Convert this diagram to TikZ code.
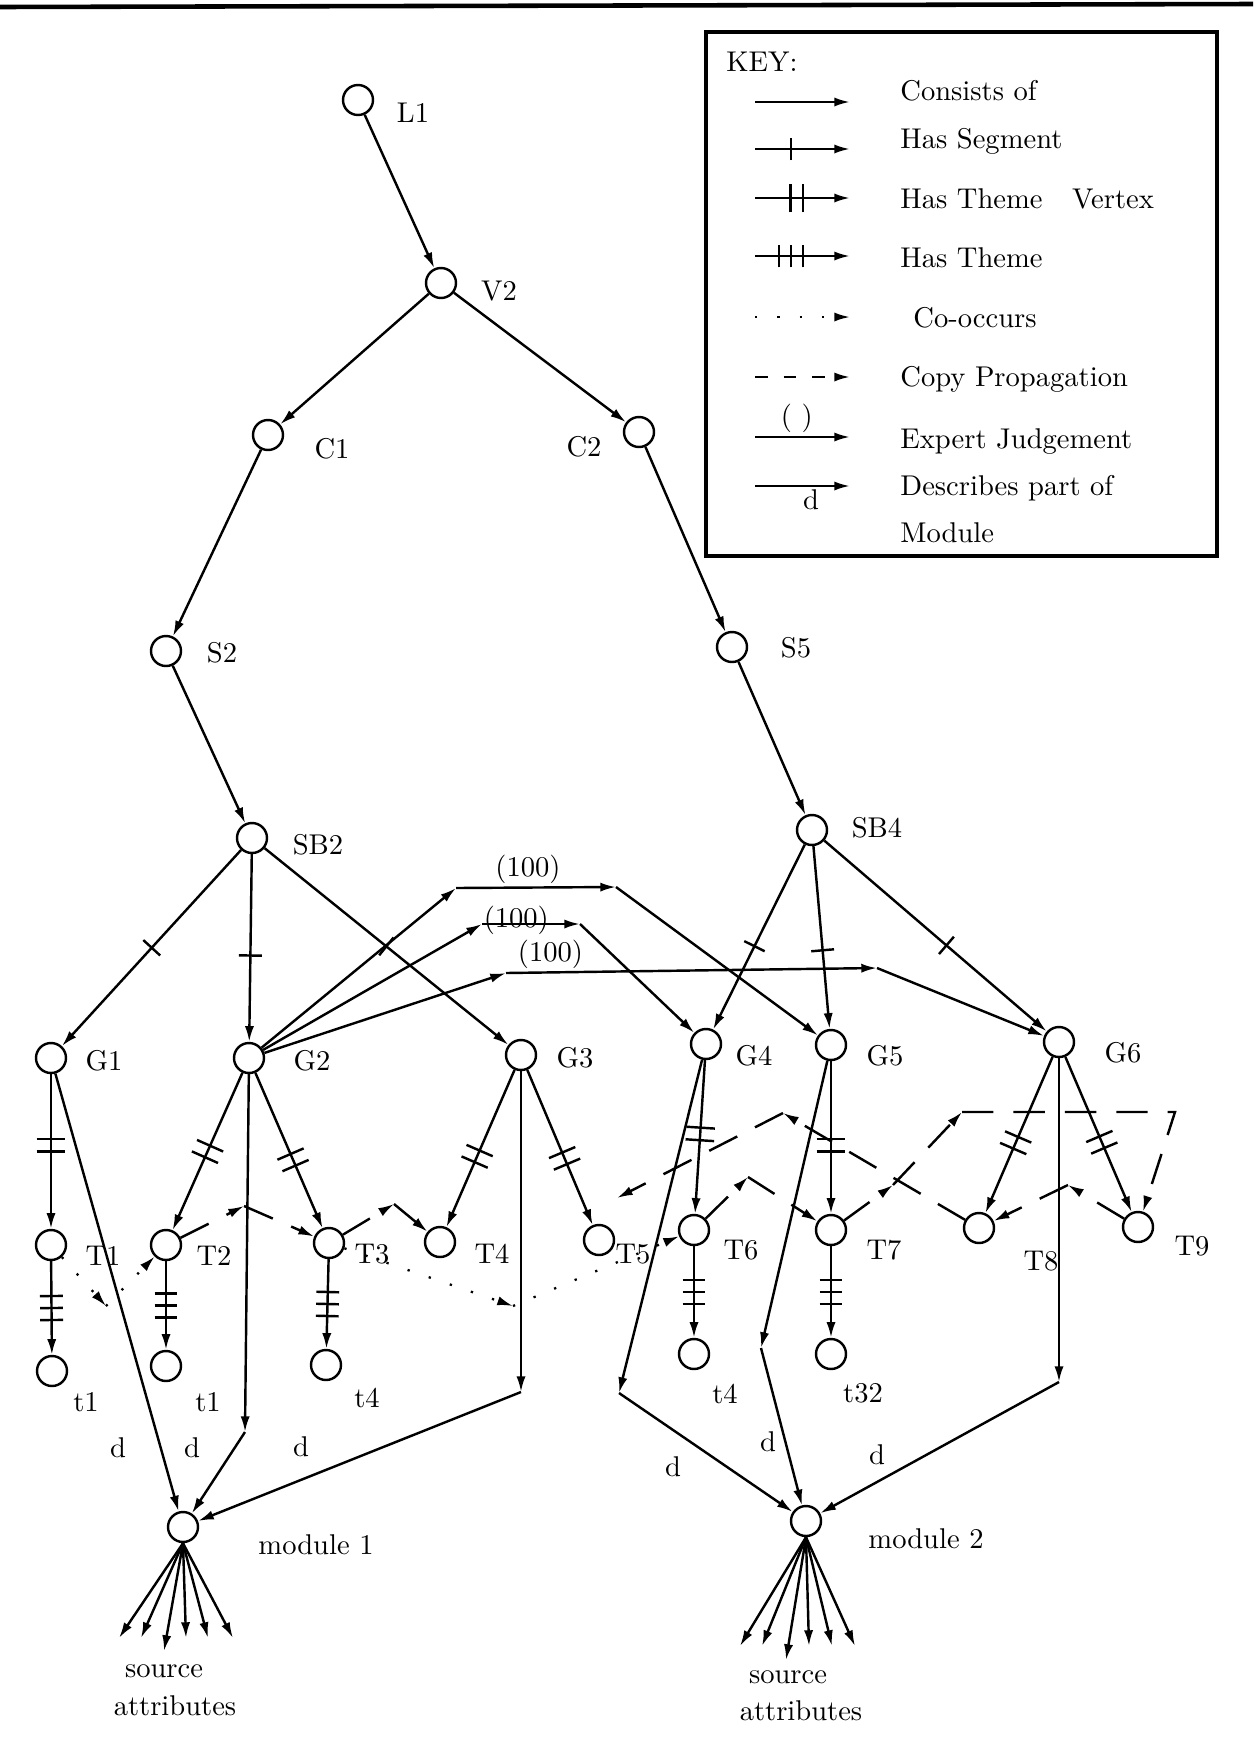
\documentclass[tikz,border=0pt]{standalone}
\usepackage{tikz}
\usetikzlibrary{arrows.meta, positioning, calc, decorations.markings}

\begin{document}
\begin{tikzpicture}[
  x=0.35pt, y=-0.35pt,
  >={Latex[length=5.5pt,width=3.2pt]},
  vtx/.style={draw, circle, minimum size=10.5pt, inner sep=0pt, line width=0.85pt},
  lbl/.style={inner sep=1pt},
  cons/.style={->, line width=0.85pt},
  judge/.style={cons},
  descr/.style={cons},
  seg/.style={cons, postaction={decorate}, decoration={markings,
    mark=at position #1 with {\draw[-, solid, line width=0.85pt] (0,-4pt) -- (0,4pt);}}},
  seg/.default=0.5,
  thvtx/.style={cons, postaction={decorate}, decoration={markings,
    mark=at position #1 with {\draw[-, solid, line width=0.85pt] (-2.2pt,-5pt) -- (-2.2pt,5pt) (2.2pt,-5pt) -- (2.2pt,5pt);}}},
  thvtx/.default=0.5,
  theme/.style={cons, postaction={decorate}, decoration={markings,
    mark=at position #1 with {\draw[-, solid, line width=0.85pt] (-4.2pt,-4pt) -- (-4.2pt,4pt) (0,-4pt) -- (0,4pt) (4.2pt,-4pt) -- (4.2pt,4pt);}}},
  theme/.default=0.5,
  cooc/.style={->, line width=0.8pt, dash pattern=on 0.8pt off 7pt},
  copyprop/.style={->, line width=0.85pt, dash pattern=on 11pt off 7pt},
  keycp/.style={copyprop, dash pattern=on 4.5pt off 5.5pt}
]
\useasboundingbox (0,0) rectangle (1253,1737);

% Rule along the top of the page
\draw[line width=1.6pt] (0,7) -- (1253,4);

% Tree from L1 down to the sub-blocks
\node[vtx] (L1) at (358,100) {};
\node[vtx] (V2) at (441,283) {};
\node[vtx] (C1) at (268,435) {};
\node[vtx] (C2) at (639,432) {};
\node[vtx] (S2) at (166,651) {};
\node[vtx] (S5) at (732,647) {};
\node[vtx] (SB2) at (252,838) {};
\node[vtx] (SB4) at (812,830) {};

% Groups
\node[vtx] (G1) at (51,1058) {};
\node[vtx] (G2) at (249,1058) {};
\node[vtx] (G3) at (521,1055) {};
\node[vtx] (G4) at (706,1044) {};
\node[vtx] (G5) at (831,1045) {};
\node[vtx] (G6) at (1059,1042) {};

% Themes
\node[vtx] (T1) at (51,1245) {};
\node[vtx] (T2) at (166,1245) {};
\node[vtx] (T3) at (329,1243) {};
\node[vtx] (T4) at (440,1242) {};
\node[vtx] (T5) at (599,1240) {};
\node[vtx] (T6) at (694,1230) {};
\node[vtx] (T7) at (831,1230) {};
\node[vtx] (T8) at (979,1228) {};
\node[vtx] (T9) at (1138,1227) {};

% Theme vertices
\node[vtx] (t1a) at (52,1371) {};
\node[vtx] (t1b) at (166,1366) {};
\node[vtx] (t4a) at (326,1365) {};
\node[vtx] (t4b) at (694,1354) {};
\node[vtx] (t32) at (831,1354) {};

% Modules
\node[vtx] (M1) at (183,1527) {};
\node[vtx] (M2) at (806,1521) {};

% Names beside the circles
\node[lbl] (L1-l) at ($(L1)+(55,13)$) {L1};
\node[lbl] (V2-l) at ($(V2)+(58,8)$) {V2};
\node[lbl] (C1-l) at ($(C1)+(64,14)$) {C1};
\node[lbl] (C2-l) at ($(C2)+(-55,15)$) {C2};
\node[lbl] (S2-l) at ($(S2)+(56,2)$) {S2};
\node[lbl] (S5-l) at ($(S5)+(64,1)$) {S5};
\node[lbl] (SB2-l) at ($(SB2)+(66,7)$) {SB2};
\node[lbl] (SB4-l) at ($(SB4)+(65,-2)$) {SB4};
\node[lbl] (G1-l) at ($(G1)+(53,3)$) {G1};
\node[lbl] (G2-l) at ($(G2)+(63,3)$) {G2};
\node[lbl] (G3-l) at ($(G3)+(54,3)$) {G3};
\node[lbl] (G4-l) at ($(G4)+(48,12)$) {G4};
\node[lbl] (G5-l) at ($(G5)+(54,11)$) {G5};
\node[lbl] (G6-l) at ($(G6)+(64,11)$) {G6};
\node[lbl] (T1-l) at ($(T1)+(52,11)$) {T1};
\node[lbl] (T2-l) at ($(T2)+(48,11)$) {T2};
\node[lbl] (T3-l) at ($(T3)+(43,11)$) {T3};
\node[lbl] (T4-l) at ($(T4)+(52,12)$) {T4};
\node[lbl] (T5-l) at ($(T5)+(34,14)$) {T5};
\node[lbl] (T6-l) at ($(T6)+(47,20)$) {T6};
\node[lbl] (T7-l) at ($(T7)+(53,20)$) {T7};
\node[lbl] (T8-l) at ($(T8)+(62,33)$) {T8};
\node[lbl] (T9-l) at ($(T9)+(54,19)$) {T9};
\node[lbl] (t1a-l) at ($(t1a)+(34,31)$) {t1};
\node[lbl] (t1b-l) at ($(t1b)+(42,36)$) {t1};
\node[lbl] (t4a-l) at ($(t4a)+(41,33)$) {t4};
\node[lbl] (t4b-l) at ($(t4b)+(31,40)$) {t4};
\node[lbl] (t32-l) at ($(t32)+(32,39)$) {t32};
\node[lbl] (M1-l) at ($(M1)+(133,18)$) {module 1};
\node[lbl] (M2-l) at ($(M2)+(120,18)$) {module 2};

% Consists of
\draw[cons] (L1) -- (V2);
\draw[cons] (V2) -- (C1);
\draw[cons] (V2) -- (C2);
\draw[cons] (C1) -- (S2);
\draw[cons] (C2) -- (S5);
\draw[cons] (S2) -- (SB2);
\draw[cons] (S5) -- (SB4);

% Has Segment
\draw[seg] (SB2) -- (G1);
\draw[seg=0.54] (SB2) -- (G2);
\draw[seg] (SB2) -- (G3);
\draw[seg=0.55] (SB4) -- (G4);
\draw[seg=0.57] (SB4) -- (G5);
\draw[seg=0.55] (SB4) -- (G6);

% Expert judgement
\coordinate (j1a) at (456,888);
\coordinate (j1b) at (616,887);
\coordinate (j2a) at (482,924);
\coordinate (j2b) at (580,924);
\coordinate (j3a) at (506,973);
\coordinate (j3b) at (877,968);
\draw[judge] (G2) -- (j1a);
\draw[judge] (j1a) -- (j1b) node[lbl, pos=0.45, above] (w1) {(100)};
\draw[judge] (j1b) -- (G5);
\draw[judge] (G2) -- (j2a);
\draw[judge] (j2a) -- (j2b) node[lbl, pos=0.35, above, yshift=-5pt] (w2) {(100)};
\draw[judge] (j2b) -- (G4);
\draw[judge] (G2) -- (j3a);
\draw[judge] (j3a) -- (j3b) node[lbl, pos=0.12, above] (w3) {(100)};
\draw[judge] (j3b) -- (G6);

% Has Theme Vertex
\draw[thvtx=0.46] (G1) -- (T1);
\draw[thvtx] (G2) -- (T2);
\draw[thvtx=0.56] (G2) -- (T3);
\draw[thvtx=0.55] (G3) -- (T4);
\draw[thvtx=0.57] (G3) -- (T5);
\draw[thvtx=0.48] (G4) -- (T6);
\draw[thvtx=0.55] (G5) -- (T7);
\draw[thvtx=0.55] (G6) -- (T8);
\draw[thvtx=0.55] (G6) -- (T9);

% Has Theme
\draw[theme] (T1) -- (t1a);
\draw[theme] (T2) -- (t1b);
\draw[theme] (T3) -- (t4a);
\draw[theme] (T6) -- (t4b);
\draw[theme] (T7) -- (t32);

% Co-occurs
\coordinate (o1) at (106,1306);
\coordinate (o2) at (513,1306);
\draw[cooc] (T1) -- (o1);
\draw[cooc] (o1) -- (T2);
\draw[cooc] (T3) -- (o2);
\draw[cooc] (o2) -- (T6);

% Copy propagation
\coordinate (p1) at (244,1206);
\coordinate (p2) at (394,1204);
\coordinate (p3) at (748,1177);
\coordinate (p4) at (893,1185);
\coordinate (p5) at (962,1112);
\coordinate (p6) at (1175,1112);
\coordinate (p7) at (783,1113);
\coordinate (p8) at (1068,1185);
\coordinate (p9) at (617,1198);
\draw[copyprop] (T2) -- (p1);
\draw[copyprop] (p1) -- (T3);
\draw[copyprop] (T3) -- (p2);
\draw[copyprop] (p2) -- (T4);
\draw[copyprop] (T6) -- (p3);
\draw[copyprop] (p3) -- (T7);
\draw[copyprop] (T7) -- (p4);
\draw[copyprop] (p4) -- (p5);
\draw[copyprop] (p5) -- (p6) -- (T9);
\draw[copyprop] (T8) -- (p7);
\draw[copyprop] (p7) -- (p9);
\draw[copyprop] (T9) -- (p8);
\draw[copyprop] (p8) -- (T8);

% Describes part of module
\coordinate (d2) at (245,1432);
\coordinate (d3) at (521,1392);
\coordinate (d4) at (619,1393);
\coordinate (d5) at (761,1348);
\coordinate (d6) at (1059,1382);
\draw[descr] (G1) -- (M1);
\draw[descr] (G2) -- (d2);
\draw[descr] (d2) -- (M1);
\draw[descr] (G3) -- (d3);
\draw[descr] (d3) -- (M1);
\draw[descr] (G4) -- (d4);
\draw[descr] (d4) -- (M2);
\draw[descr] (G5) -- (d5);
\draw[descr] (d5) -- (M2);
\draw[descr] (G6) -- (d6);
\draw[descr] (d6) -- (M2);
\node[lbl] (dl1) at (118,1448) {d};
\node[lbl] (dl2) at (192,1448) {d};
\node[lbl] (dl3) at (301,1447) {d};
\node[lbl] (dl4) at (673,1467) {d};
\node[lbl] (dl5) at (768,1442) {d};
\node[lbl] (dl6) at (877,1455) {d};

% Source attributes of module 1
\coordinate (a1) at (119,1638);
\coordinate (a2) at (141,1638);
\coordinate (a3) at (164,1651);
\coordinate (a4) at (186,1638);
\coordinate (a5) at (208,1638);
\coordinate (a6) at (233,1638);
\draw[cons] (M1.south) -- (a1);
\draw[cons] (M1.south) -- (a2);
\draw[cons] (M1.south) -- (a3);
\draw[cons] (M1.south) -- (a4);
\draw[cons] (M1.south) -- (a5);
\draw[cons] (M1.south) -- (a6);
\node[lbl, anchor=base] (src1) at (164,1677) {source};
\node[lbl, anchor=base] (att1) at (175,1715) {attributes};

% Source attributes of module 2
\coordinate (b1) at (740,1646);
\coordinate (b2) at (762,1646);
\coordinate (b3) at (786,1660);
\coordinate (b4) at (809,1646);
\coordinate (b5) at (832,1646);
\coordinate (b6) at (855,1646);
\draw[cons] (M2.south) -- (b1);
\draw[cons] (M2.south) -- (b2);
\draw[cons] (M2.south) -- (b3);
\draw[cons] (M2.south) -- (b4);
\draw[cons] (M2.south) -- (b5);
\draw[cons] (M2.south) -- (b6);
\node[lbl, anchor=base] (src2) at (788,1683) {source};
\node[lbl, anchor=base] (att2) at (801,1720) {attributes};

% Key
\draw[line width=1.1pt] (706,32) rectangle (1217,556);
\node[lbl, anchor=base west] (key) at (723,71) {KEY:};
\coordinate (k1a) at (755,102); \coordinate (k1b) at (850,102);
\coordinate (k2a) at (755,149); \coordinate (k2b) at (850,149);
\coordinate (k3a) at (755,198); \coordinate (k3b) at (850,198);
\coordinate (k4a) at (755,256); \coordinate (k4b) at (850,256);
\coordinate (k5a) at (755,317); \coordinate (k5b) at (850,317);
\coordinate (k6a) at (755,377); \coordinate (k6b) at (850,377);
\coordinate (k7a) at (755,437); \coordinate (k7b) at (850,437);
\coordinate (k8a) at (755,486); \coordinate (k8b) at (850,486);
\draw[cons] (k1a) -- (k1b);
\draw[seg=0.38] (k2a) -- (k2b);
\draw[thvtx=0.44] (k3a) -- (k3b);
\draw[theme=0.38] (k4a) -- (k4b);
\draw[cooc] (k5a) -- (k5b);
\draw[keycp] (k6a) -- (k6b);
\draw[judge] (k7a) -- (k7b) node[lbl, pos=0.44, above] (k7l) {( )};
\draw[descr] (k8a) -- (k8b) node[lbl, pos=0.59, below] (k8l) {d};
\node[lbl, anchor=base west] (k1t) at (897,100) {Consists of};
\node[lbl, anchor=base west] (k2t) at (897,148) {Has Segment};
\node[lbl, anchor=base west] (k3t) at (897,208) {Has Theme\hspace{7pt} Vertex};
\node[lbl, anchor=base west] (k4t) at (897,267) {Has Theme};
\node[lbl, anchor=base west] (k5t) at (910,327) {Co-occurs};
\node[lbl, anchor=base west] (k6t) at (897,386) {Copy Propagation};
\node[lbl, anchor=base west] (k7t) at (897,448) {Expert Judgement};
\node[lbl, anchor=base west] (k8t) at (897,495) {Describes part of};
\node[lbl, anchor=base west] (k9t) at (897,542) {Module};

\end{tikzpicture}
\end{document}
